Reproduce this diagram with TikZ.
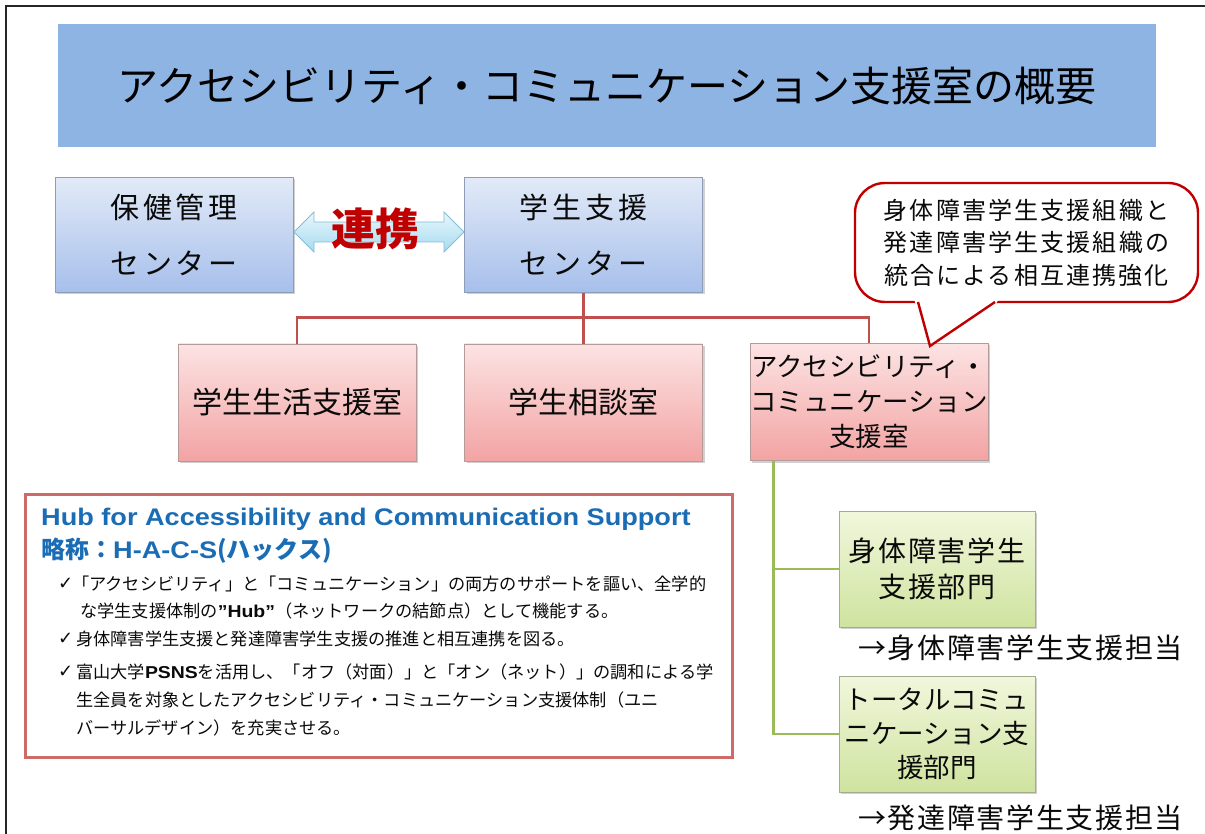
\documentclass[tikz,border=0pt]{standalone}
\usepackage{fontspec}
\setmainfont{Noto Sans CJK JP}
\newfontfamily\lib{Liberation Sans}[FakeStretch=1.13]
\newfontfamily\dejavu{DejaVu Sans}
\usetikzlibrary{shadows,calc}
\newcommand{\lsp}[1]{\addfontfeatures{LetterSpace=#1}}
\definecolor{titleblue}{HTML}{8EB4E3}
\definecolor{blueTop}{HTML}{E2EAF7}
\definecolor{blueBot}{HTML}{A6BFEB}
\definecolor{blueBorder}{HTML}{8E9CB8}
\definecolor{pinkTop}{HTML}{FCE3E3}
\definecolor{pinkBot}{HTML}{F3A3A3}
\definecolor{pinkBorder}{HTML}{B59A9A}
\definecolor{greenTop}{HTML}{F1F7DC}
\definecolor{greenBot}{HTML}{CFE39F}
\definecolor{greenBorder}{HTML}{A3AC8E}
\definecolor{redline}{HTML}{C0504D}
\definecolor{greenline}{HTML}{9BBB59}
\definecolor{darkred}{HTML}{C00000}
\definecolor{hubblue}{HTML}{1A6DB5}
\definecolor{hubborder}{HTML}{CD6B69}
\definecolor{arrowTop}{HTML}{E8F7FC}
\definecolor{arrowBot}{HTML}{A6DBEF}
\definecolor{arrowBorder}{HTML}{86BCD6}
\definecolor{txt}{HTML}{0A0A0A}
\tikzset{
  shad/.style={drop shadow={shadow xshift=2pt, shadow yshift=-2pt, opacity=0.3, fill=black!60}},
  bluebox/.style={shad, draw=blueBorder, line width=0.8pt, top color=blueTop, bottom color=blueBot,
     minimum width=238, minimum height=115, align=center, text=txt, inner sep=0pt,
     font=\fontsize{29}{56}\selectfont\lsp{13}},
  pinkbox/.style={shad, draw=pinkBorder, line width=0.8pt, top color=pinkTop, bottom color=pinkBot,
     minimum width=238, minimum height=117, align=center, text=txt, inner sep=0pt},
  greenbox/.style={shad, draw=greenBorder, line width=0.8pt, top color=greenTop, bottom color=greenBot,
     minimum width=196, minimum height=116, align=center, text=txt, inner sep=0pt},
  rline/.style={draw=redline, line width=2.2pt},
  gline/.style={draw=greenline, line width=2.6pt},
  bullettxt/.style={anchor=west, inner sep=0pt, text=txt, font=\fontsize{17.2}{20}\selectfont},
  checkmk/.style={anchor=west, inner sep=0pt, text=txt, font=\dejavu\fontsize{18}{20}\selectfont},
  desttxt/.style={anchor=west, inner sep=0pt, text=txt, font=\fontsize{28}{30}\selectfont\lsp{6}},
}
\begin{document}
\begin{tikzpicture}[x=1pt,y=-1pt]
\useasboundingbox (0,0) rectangle (1205,834);
\fill[white] (0,0) rectangle (1205,834);
% frame
\draw[line width=1.5pt, black!85] (6,834) -- (6,6) -- (1205,6);

% title
\node[fill=titleblue, minimum width=1098, minimum height=123, inner sep=0pt,
      font=\fontsize{41}{44}\selectfont, text=black] (title) at (607,86)
  {アクセシビリティ・コミュニケーション支援室の概要};

% top boxes
\node[bluebox] (hkc) at (174,235) {保健管理\\センター};
\node[bluebox] (ssc) at (583.5,235) {学生支援\\センター};

% double arrow
\draw[arrowBorder, line width=0.8pt, top color=arrowTop, bottom color=arrowBot]
  (294,232) -- (314,212) -- (314,222) -- (444,222) -- (444,212) -- (464,232)
  -- (444,252) -- (444,242) -- (314,242) -- (314,252) -- cycle;
\node[text=darkred, font=\fontsize{44}{48}\selectfont\bfseries, inner sep=0pt] (renkei) at (375,229) {連携};

% middle boxes
\node[pinkbox, font=\fontsize{30}{34}\selectfont] (ssl) at (297,402.5) {学生生活支援室};
\node[pinkbox, font=\fontsize{30}{34}\selectfont] (sod) at (583.5,402.5) {学生相談室};
\node[pinkbox, font=\fontsize{26.5}{35}\selectfont] (acs) at (869,402) {アクセシビリティ・\\コミュニケーション\\支援室};

% red connectors
\draw[rline] (ssc.south) -- (sod.north);
\draw[rline] (ssl.north) -- ++(0,-26) -| (acs.north);

% callout
\node[draw=darkred, line width=2.4pt, fill=white, rounded corners=30, minimum width=343, minimum height=119,
      align=center, text=txt, inner sep=0pt, font=\fontsize{24}{32.5}\selectfont\lsp{9}] (call) at (1026.5,242.5)
  {身体障害学生支援組織と\\発達障害学生支援組織の\\統合による相互連携強化};
\coordinate (pl) at (918,302);
\coordinate (pr) at (995,302);
\coordinate (tip) at (930,346);
\fill[white] (914,299) -- (999,299) -- (995,305) -- (tip) -- (916,305) -- cycle;
\draw[darkred, line width=2.4pt, line join=miter] (pl) -- (tip) -- (pr);

% green part
\node[greenbox, font=\fontsize{28}{36}\selectfont\lsp{7}] (g1) at (937,569) {身体障害学生\\支援部門};
\node[greenbox, font=\fontsize{26.5}{34}\selectfont] (g2) at (937,734) {トータルコミュ\\ニケーション支\\援部門};
\coordinate (gtop) at ($(acs.south west)+(24,0)$);
\draw[gline] (gtop) |- (g2.west);
\draw[gline] (g1.west) -- (g1.west -| gtop);
\node[desttxt] (d1) at (858,648) {→身体障害学生支援担当};
\node[desttxt] (d2) at (858,818) {→発達障害学生支援担当};

% hub box
\node[draw=hubborder, line width=3pt, fill=white, minimum width=707, minimum height=263, inner sep=0pt] (hub) at (378.5,625.5) {};
\node[anchor=base west, inner sep=0pt, text=hubblue, font=\lib\fontsize{24}{28}\selectfont\bfseries] (hubtitle) at (41,525)
  {Hub for Accessibility and Communication Support};
\node[anchor=base west, inner sep=0pt, text=hubblue, font=\fontsize{24}{28}\selectfont\bfseries] (hacs) at (41,558)
  {略称：{\lib H-A-C-S}(ハックス)};
\node[checkmk] (c1) at (58,584) {✓};
\node[bullettxt] (b1) at (72,584) {「アクセシビリティ」と「コミュニケーション」の両方のサポートを謳い、全学的};
\node[bullettxt] (b2) at (80,611) {な学生支援体制の{\lib\bfseries ”Hub”}（ネットワークの結節点）として機能する。};
\node[checkmk] (c2) at (58,639) {✓};
\node[bullettxt] (b3) at (76,639) {身体障害学生支援と発達障害学生支援の推進と相互連携を図る。};
\node[checkmk] (c3) at (58,672) {✓};
\node[bullettxt] (b4) at (76,672) {富山大学{\lib\bfseries PSNS}を活用し、「オフ（対面）」と「オン（ネット）」の調和による学};
\node[bullettxt] (b5) at (76,700) {生全員を対象としたアクセシビリティ・コミュニケーション支援体制（ユニ};
\node[bullettxt] (b6) at (76,728) {バーサルデザイン）を充実させる。};
\end{tikzpicture}
\end{document}
